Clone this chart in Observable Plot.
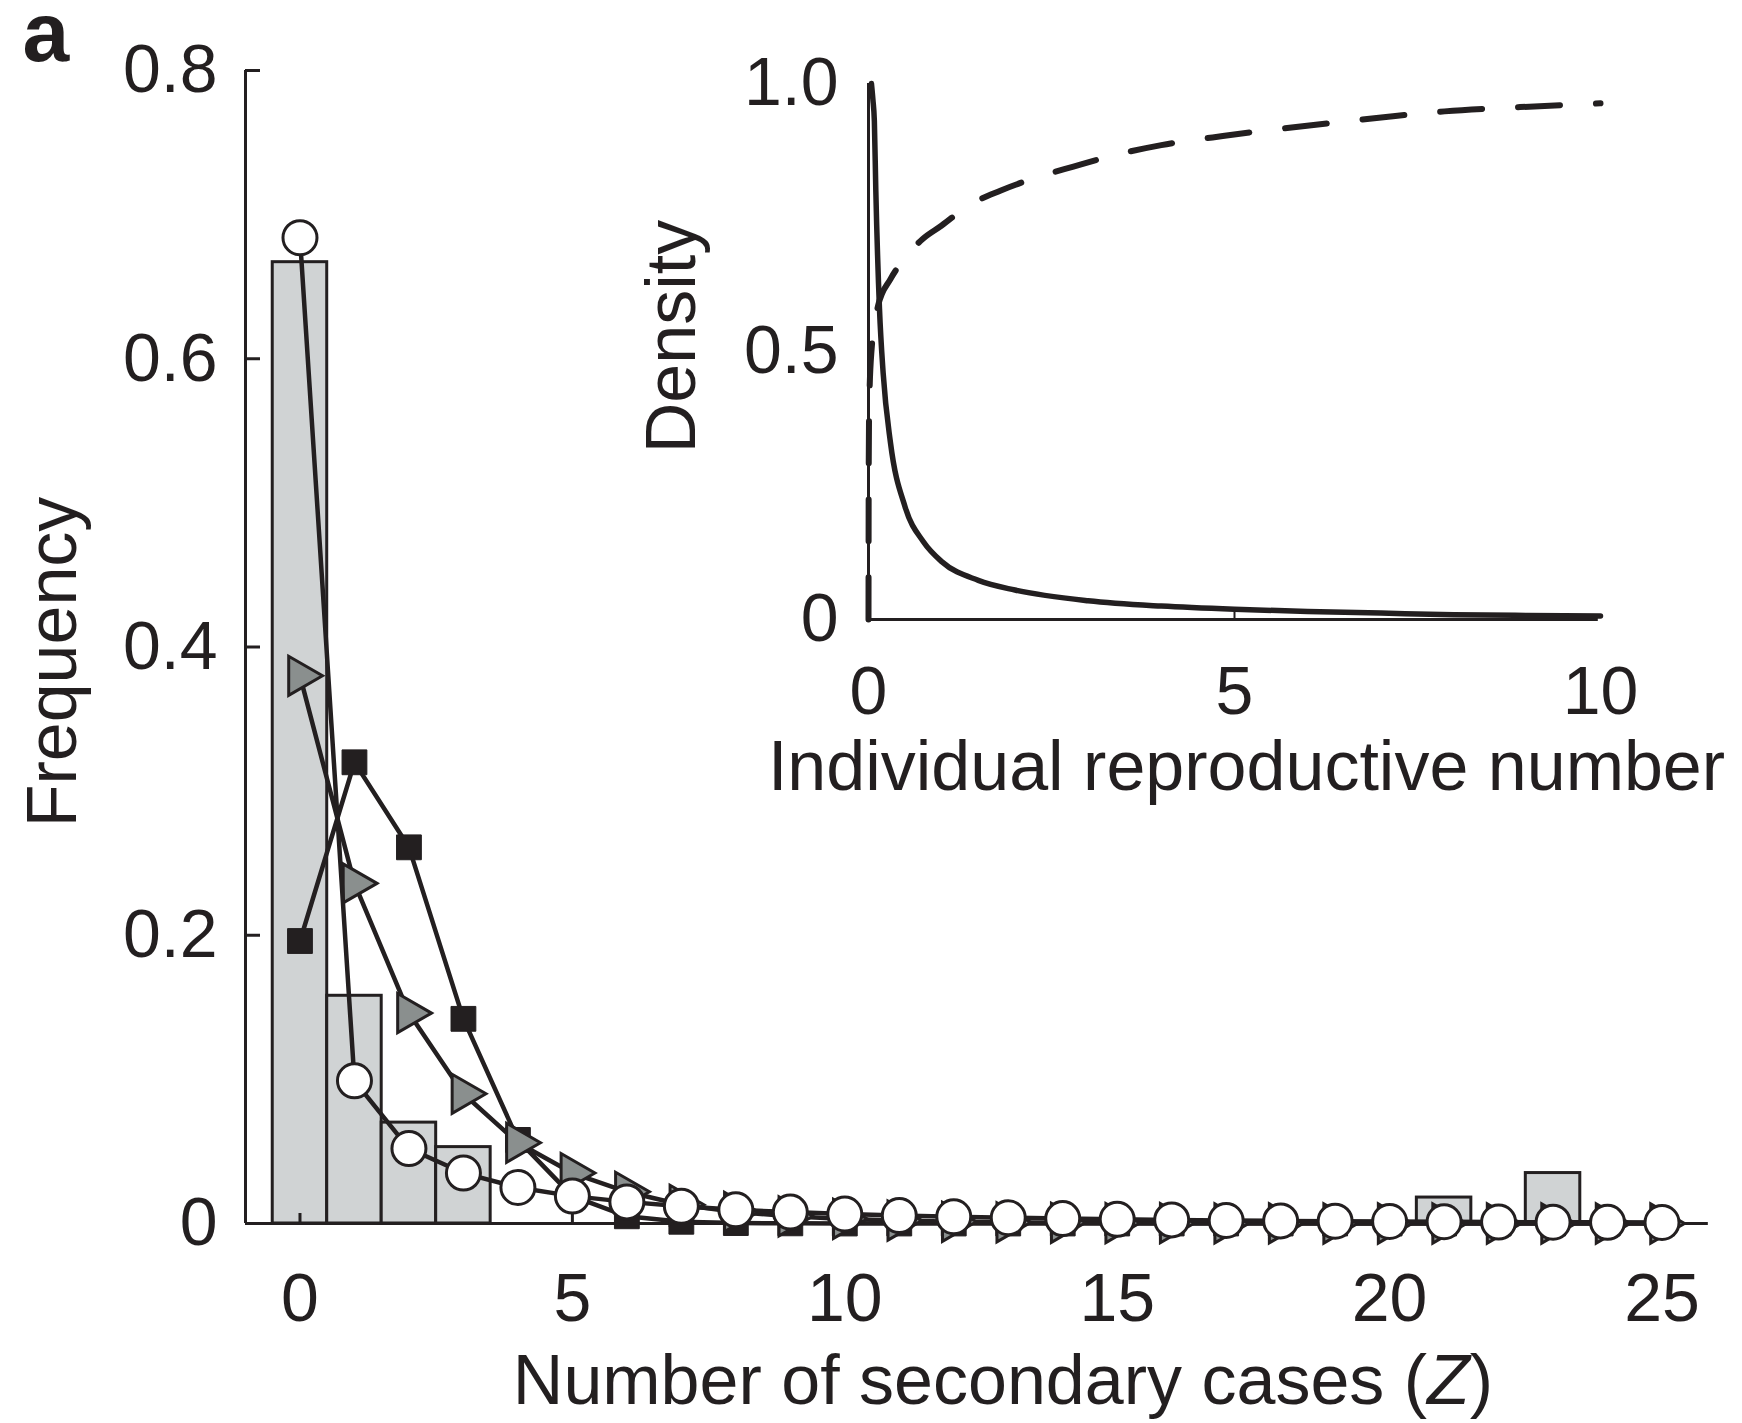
<!DOCTYPE html>
<html><head><meta charset="utf-8">
<script src="https://cdn.jsdelivr.net/npm/d3@7"></script>
<script src="https://cdn.jsdelivr.net/npm/@observablehq/plot@0.6"></script>
<style>
body{margin:0;background:#fff;}
#wrap{position:relative;width:1742px;height:1423px;}
#wrap svg{position:absolute;left:0;top:0;}
</style></head><body><div id="wrap"></div>
<script>
// ---- data ----
const Z = [0,1,2,3,4,5,6,7,8,9,10,11,12,13,14,15,16,17,18,19,20,21,22,23,24,25];
const barZ = [0,1,2,3,21,23];
const barFreq = [0.667,0.158,0.070,0.053,0.018,0.035];
const poissonFreq = [0.196,0.320,0.261,0.142,0.058,0.019,0.005,0.0012,0.0003,0.0001,0,0,0,0,0,0,0,0,0,0,0,0,0,0,0,0];
const geometricFreq = [0.380,0.236,0.146,0.090,0.056,0.035,0.022,0.013,0.008,0.005,0.0032,0.002,0.0012,0.0008,0.0005,0.0003,0.0002,0.0001,0.0001,0,0,0,0,0,0,0];
const negbinFreq = [0.684,0.099,0.052,0.035,0.025,0.019,0.015,0.012,0.0095,0.0079,0.0066,0.0055,0.0047,0.0040,0.0034,0.0029,0.0025,0.0021,0.0018,0.0016,0.0014,0.0012,0.0010,0.0009,0.0008,0.0007];
const xTicks = [0,5,10,15,20,25];
const yTicks = [0,0.2,0.4,0.6,0.8];
const yTickLabels = ["0","0.2","0.4","0.6","0.8"];
const xLabel = "Number of secondary cases (Z)";
const yLabel = "Frequency";
const panelLabel = "a";

const insetXTicks = [0,5,10];
const insetXTickLabels = ["0","5","10"];
const insetYTicks = [0,0.5,1.0];
const insetYTickLabels = ["0","0.5","1.0"];
const densityX = [0.04,0.06,0.08,0.10,0.15,0.20,0.30,0.50,0.75,1.0,1.5,2.0,3.0,4.0,5.0,6.0,7.0,8.0,9.0,10.0];
const densityY = [1.0,0.97,0.93,0.80,0.58,0.46,0.33,0.21,0.145,0.108,0.073,0.055,0.035,0.025,0.019,0.015,0.012,0.009,0.0075,0.0065];
const cumulativeX = [0,0.003,0.01,0.04,0.13,0.30,0.50,0.74,1.0,1.35,1.8,2.26,2.8,3.32,4.0,4.84,5.6,6.36,7.1,7.87,8.9,10.0];
const cumulativeY = [0,0.28,0.40,0.50,0.585,0.635,0.675,0.71,0.735,0.771,0.80,0.823,0.845,0.865,0.885,0.902,0.915,0.927,0.938,0.948,0.956,0.963];
const insetXLabel = "Individual reproductive number";
const insetYLabel = "Density";

// ---- styling ----
const INK = "#231f20";
const BAR = "#d0d3d4";
const TRI = "#8a8f8e";
const FONT = "'Liberation Sans', Arial, Helvetica, sans-serif";

const bars = barZ.map((z, i) => ({z, f: barFreq[i]}));
const series = ys => Z.map((z, i) => ({z, f: ys[i]}));
const poisson = series(poissonFreq);
const geometric = series(geometricFreq);
const negbin = series(negbinFreq);

const mainLeft = 245, mainRight = 1716, mainTop = 70, mainBottom = 1223;
const xPx = (mainRight - mainLeft) / 27;     // px per unit on main x
const yPx = (mainBottom - mainTop) / 0.8;    // px per unit on main y

const main = Plot.plot({
  width: 1742, height: 1423,
  marginLeft: mainLeft, marginRight: 1742 - mainRight, marginTop: mainTop, marginBottom: 1423 - mainBottom,
  style: {background: "transparent", font: `68px ${FONT}`, color: INK, overflow: "visible"},
  x: {domain: [-1, 26], axis: null},
  y: {domain: [0, 0.8], axis: null},
  marks: [
    Plot.rectY(bars, {x1: d => d.z - 0.5, x2: d => d.z + 0.5, y1: 0, y2: "f", fill: BAR, stroke: INK, strokeWidth: 3}),
    Plot.ruleX([-1], {y1: 0, y2: 0.8, stroke: INK, strokeWidth: 3}),
    Plot.ruleY([0], {x1: -1, x2: 25.85, stroke: INK, strokeWidth: 3}),
    Plot.ruleY(yTicks, {y: d => d, x1: -1, x2: -1 + 15 / xPx, stroke: INK, strokeWidth: 3}),
    Plot.ruleX(xTicks, {x: d => d, y1: 0, y2: 10 / yPx, stroke: INK, strokeWidth: 3}),
    Plot.axisY({ticks: yTicks, tickFormat: (d, i) => yTickLabels[i], tickSize: 0, tickPadding: 28, label: null, fontSize: 68}),
    Plot.axisX({ticks: xTicks, tickFormat: d => String(d), tickSize: 0, tickPadding: 49, label: null, fontSize: 68}),
    // Poisson (squares)
    Plot.line(poisson, {x: "z", y: "f", stroke: INK, strokeWidth: 4.5}),
    Plot.dot(poisson, {x: "z", y: "f", symbol: "square", r: 14, fill: INK, stroke: INK, strokeWidth: 1}),
    // Geometric (triangles)
    Plot.line(geometric, {x: "z", y: "f", stroke: INK, strokeWidth: 4.5}),
    Plot.dot(geometric, {x: "z", y: "f", symbol: "triangle", r: 14.5, rotate: 90, fill: TRI, stroke: INK, strokeWidth: 3}),
    // Negative binomial (circles)
    Plot.line(negbin, {x: "z", y: "f", stroke: INK, strokeWidth: 4.5}),
    Plot.dot(negbin, {x: "z", y: "f", symbol: "circle", r: 17, fill: "white", stroke: INK, strokeWidth: 3}),
    // labels
    Plot.text([yLabel], {frameAnchor: "left", textAnchor: "middle", rotate: -90, dx: -192, dy: 15, fontSize: 70, lineAnchor: "middle", fill: INK}),
    Plot.text([xLabel], {frameAnchor: "bottom", textAnchor: "middle", dx: 22, dy: 158, fontSize: 70, lineAnchor: "middle", fill: INK}),
    Plot.text([panelLabel], {frameAnchor: "top-left", dx: -223, dy: -10, textAnchor: "start", lineAnchor: "bottom", fontSize: 84, fontWeight: "bold", fill: INK})
  ]
});

// italic Z in the x-axis label
d3.select(main).selectAll("text").filter(function() { return this.textContent === xLabel; }).each(function() {
  const t = d3.select(this);
  t.text(null);
  t.append("tspan").text("Number of secondary cases (");
  t.append("tspan").attr("font-style", "italic").text("Z");
  t.append("tspan").text(")");
});

const iyPx = (619 - 83) / 1;
const density = densityX.map((x, i) => ({x, y: densityY[i]}));
const cumulative = cumulativeX.map((x, i) => ({x, y: cumulativeY[i]}));

const inset = Plot.plot({
  width: 1742, height: 1423,
  marginLeft: 868, marginRight: 142, marginTop: 83, marginBottom: 804,
  style: {background: "transparent", font: `68px ${FONT}`, color: INK, overflow: "visible"},
  x: {domain: [0, 10], axis: null},
  y: {domain: [0, 1], axis: null},
  marks: [
    Plot.ruleX([0], {y1: 0, y2: 1, stroke: INK, strokeWidth: 3}),
    Plot.ruleY([0], {x1: 0, x2: 9.97, stroke: INK, strokeWidth: 3}),
    Plot.ruleX(insetXTicks.slice(1, 2), {x: d => d, y1: 0, y2: 8 / iyPx, stroke: INK, strokeWidth: 2}),
    Plot.line(cumulative, {x: "x", y: "y", stroke: INK, strokeWidth: 6, strokeDasharray: "42,36", curve: "monotone-x"}),
    Plot.line(density, {x: "x", y: "y", stroke: INK, strokeWidth: 5.5, curve: "monotone-x"}),
    Plot.axisY({ticks: insetYTicks, tickFormat: (d, i) => insetYTickLabels[i], tickSize: 0, tickPadding: 30, label: null, fontSize: 68}),
    Plot.axisX({ticks: insetXTicks, tickFormat: (d, i) => insetXTickLabels[i], tickSize: 0, tickPadding: 46, label: null, fontSize: 68}),
    Plot.text([insetYLabel], {frameAnchor: "left", textAnchor: "middle", rotate: -90, dx: -196, dy: -15, fontSize: 70, lineAnchor: "middle", fill: INK}),
    Plot.text([insetXLabel], {frameAnchor: "bottom", textAnchor: "middle", dx: 12, dy: 148, fontSize: 70, lineAnchor: "middle", fill: INK})
  ]
});

document.getElementById("wrap").append(main, inset);
</script></body></html>
